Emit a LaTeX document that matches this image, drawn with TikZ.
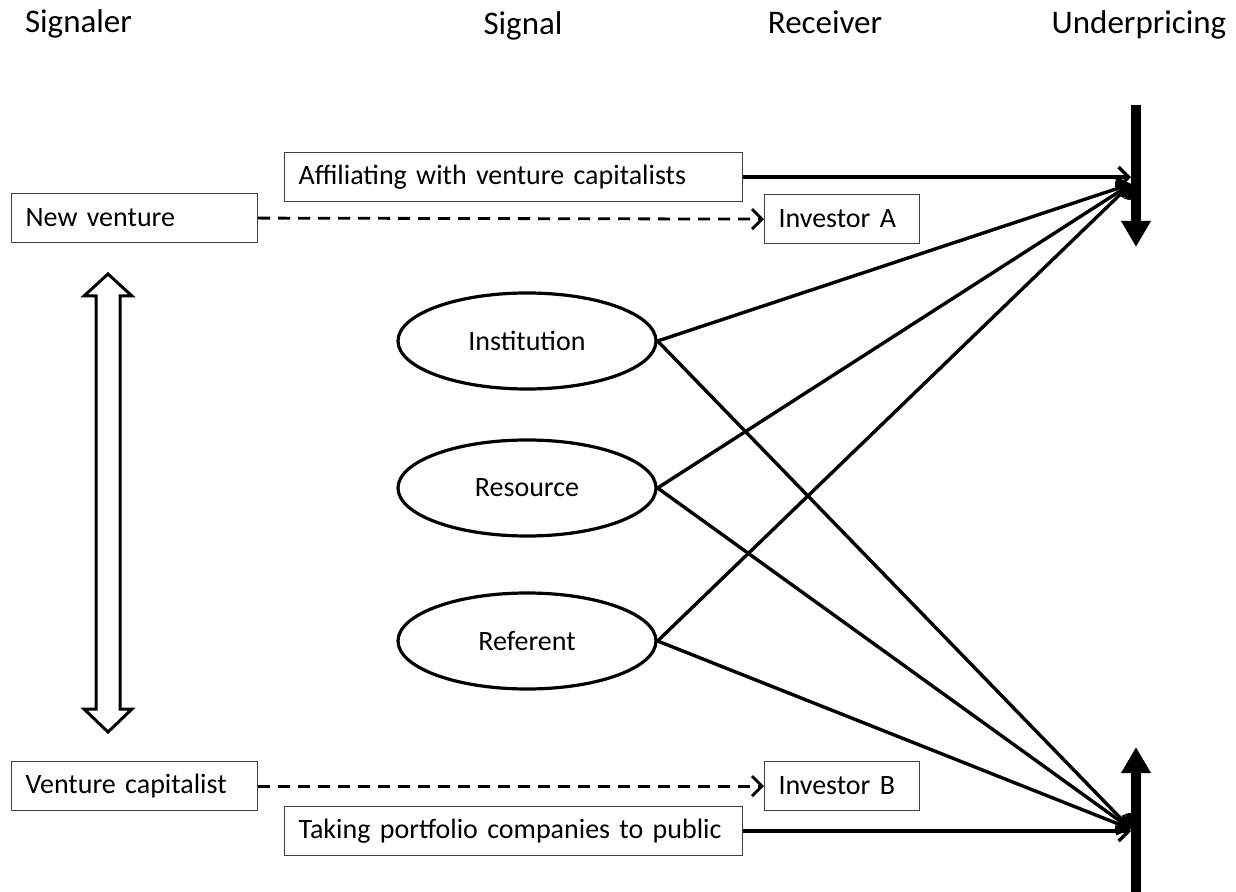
\documentclass[tikz,border=0pt]{standalone}
\usepackage{fontspec}
\setmainfont{Carlito}
\usepackage{tikz}
\usetikzlibrary{calc}
\usetikzlibrary{arrows.meta}
\usetikzlibrary{positioning}
\usetikzlibrary{shapes.geometric}
\tikzset{>={Straight Barb[length=5pt,width=10pt]}}
\tikzstyle{head} = [draw=none, inner sep = 0, anchor=base, font=\fontsize{16.5}{19}\selectfont]
\tikzstyle{box} = [draw=black!75, line width=0.6pt, align=left, anchor=north west, inner xsep=7pt, inner ysep=0pt, minimum height=24.5pt, font=\fontsize{14}{16}\selectfont]
\tikzstyle{oval} = [draw, ellipse, line width=1.6pt, minimum width=129pt, minimum height=48pt, font=\fontsize{14}{16}\selectfont]
\tikzstyle{sig} = [->, line width=1.7pt]
\tikzstyle{cue} = [->, dash pattern=on 6pt off 4pt, line width=1.4pt]
\tikzstyle{bar} = [-{Triangle[width=14pt,length=13pt]}, line width=5pt]

\begin{document}
\begin{tikzpicture}[x=0.5pt, y=-0.5pt]
\useasboundingbox (0,0) rectangle (1236,892);
% column heads
\node [head] (hsig) at (78.5, 33) {Signaler};
\node [head] (hsgl) at (523, 35) {Signal};
\node [head] (hrec) at (825, 34) {Receiver};
\node [head] (hund) at (1139, 34) {Underpricing};
% signalers and receivers
\node [box, text width=109pt] (nv) at (11, 193) {New venture};
\node [box, text width=109pt] (vc) at (11, 761) {Venture capitalist};
\node [box, text width=215pt] (aff) at (284, 152) {Affiliating with venture capitalists};
\node [box, text width=215pt] (tpc) at (284, 806) {Taking portfolio companies to public};
\node [box, text width=63.5pt] (ia) at (764, 194) {Investor A};
\node [box, text width=63.5pt] (ib) at (764, 761) {Investor B};
% signals
\node [oval] (inst) at (527, 341) {Institution};
\node [oval] (res) at (527, 488) {Resource};
\node [oval] (ref) at (527, 641) {Referent};
% underpricing bars
\coordinate (ut) at (1136, 105);
\coordinate (ub) at (1136, 247);
\coordinate (dt) at (1136, 747);
\coordinate (db) at (1136, 892);
\coordinate (uin) at (1131, 184);
\coordinate (din) at (1131, 829);
\draw [bar] (ut) to (ub);
\draw [bar] (db) to (dt);
\draw [sig] (aff.east) to (aff.east -| uin);
\draw [sig] (tpc.east) to (tpc.east -| din);
\draw [sig] (inst.east) to (uin);
\draw [sig] (res.east) to (uin);
\draw [sig] (ref.east) to (uin);
\draw [sig] (inst.east) to (din);
\draw [sig] (res.east) to (din);
\draw [sig] (ref.east) to (din);
\draw [cue] (nv.east) to (ia.west);
\draw [cue] (vc.east) to (ib.west);
% two-way arrow between signalers
\draw [line width=1.5pt, line join=miter]
  (108, 274) -- (132, 296) -- (120, 296) -- (120, 709) -- (132, 709)
  -- (108, 732) -- (84, 709) -- (96, 709) -- (96, 296) -- (84, 296) -- cycle;
\end{tikzpicture}
\end{document}
